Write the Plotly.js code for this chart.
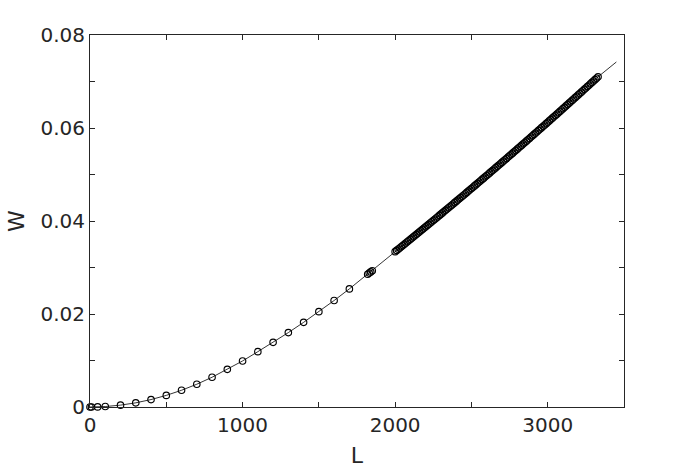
<!DOCTYPE html>
<html>
<head>
<meta charset="utf-8">
<script src="https://cdn.plot.ly/plotly-3.0.1.min.js"></script>
<style>html,body{margin:0;padding:0;background:#fff;}#plot{width:691px;height:470px;}</style>
</head>
<body>
<div id="plot"></div>
<script>
// Sparse low-L samples
const L_low = [0, 10, 50, 100, 200, 300, 400, 500, 600, 700, 800, 900, 1000, 1100, 1200, 1300, 1400, 1500, 1600, 1700, 1820, 1830, 1840, 1850];
const W_low = [0, 0.000001, 0.000025, 0.0001, 0.0004, 0.0009, 0.0016, 0.0025, 0.0036, 0.0049, 0.0064, 0.0081, 0.0099, 0.0119, 0.0139, 0.0160, 0.0182, 0.0205, 0.0229, 0.0254, 0.02855, 0.02880, 0.02905, 0.02930];

// Dense samples, 2000 - 3330
const L_dense = [2000,2010,2020,2030,2040,2050,2060,2070,2080,2090,2100,2110,2120,2130,2140,2150,2160,2170,2180,2190,
  2200,2210,2220,2230,2240,2250,2260,2270,2280,2290,2300,2310,2320,2330,2340,2350,2360,2370,2380,2390,
  2400,2410,2420,2430,2440,2450,2460,2470,2480,2490,2500,2510,2520,2530,2540,2550,2560,2570,2580,2590,
  2600,2610,2620,2630,2640,2650,2660,2670,2680,2690,2700,2710,2720,2730,2740,2750,2760,2770,2780,2790,
  2800,2810,2820,2830,2840,2850,2860,2870,2880,2890,2900,2910,2920,2930,2940,2950,2960,2970,2980,2990,
  3000,3010,3020,3030,3040,3050,3060,3070,3080,3090,3100,3110,3120,3130,3140,3150,3160,3170,3180,3190,
  3200,3210,3220,3230,3240,3250,3260,3270,3280,3290,3300,3310,3320,3330];
const W_dense = [0.03340,0.03367,0.03393,0.03420,0.03446,0.03473,0.03499,0.03526,0.03553,0.03580,0.03606,0.03633,0.03660,0.03687,0.03714,0.03740,0.03767,0.03794,0.03821,0.03848,
  0.03875,0.03902,0.03929,0.03957,0.03984,0.04011,0.04038,0.04065,0.04092,0.04120,0.04147,0.04174,0.04202,0.04229,0.04256,0.04284,0.04311,0.04339,0.04366,0.04394,
  0.04421,0.04449,0.04476,0.04504,0.04532,0.04559,0.04587,0.04615,0.04643,0.04670,0.04698,0.04726,0.04754,0.04782,0.04810,0.04838,0.04866,0.04894,0.04922,0.04950,
  0.04978,0.05006,0.05034,0.05062,0.05090,0.05119,0.05147,0.05175,0.05203,0.05232,0.05260,0.05289,0.05317,0.05345,0.05374,0.05402,0.05431,0.05459,0.05488,0.05517,
  0.05545,0.05574,0.05602,0.05631,0.05660,0.05689,0.05717,0.05746,0.05775,0.05804,0.05833,0.05862,0.05891,0.05920,0.05949,0.05978,0.06007,0.06036,0.06065,0.06094,
  0.06123,0.06152,0.06181,0.06211,0.06240,0.06269,0.06298,0.06328,0.06357,0.06387,0.06416,0.06445,0.06475,0.06504,0.06534,0.06563,0.06593,0.06623,0.06652,0.06682,
  0.06712,0.06741,0.06771,0.06801,0.06831,0.06860,0.06890,0.06920,0.06950,0.06980,0.07010,0.07040,0.07070,0.07100];

// Continuous curve extension beyond the last sample
const L_end = [3450];
const W_end = [0.0742];

const xTickVals = [0, 500, 1000, 1500, 2000, 2500, 3000, 3500];
const xTickText = ['0', '', '1000', '', '2000', '', '3000', ''];
const yTickVals = [0, 0.01, 0.02, 0.03, 0.04, 0.05, 0.06, 0.07, 0.08];
const yTickText = ['0', '', '0.02', '', '0.04', '', '0.06', '', '0.08'];

const Lm = L_low.concat(L_dense);
const Wm = W_low.concat(W_dense);

const curve = {
  x: Lm.concat(L_end), y: Wm.concat(W_end),
  mode: 'lines', type: 'scatter',
  line: {color: '#000', width: 0.8},
  hoverinfo: 'skip', showlegend: false, cliponaxis: false
};
const pts = {
  x: Lm, y: Wm,
  mode: 'markers', type: 'scatter',
  marker: {symbol: 'circle-open', size: 6.5, color: '#000', line: {width: 1.15, color: '#000'}},
  showlegend: false, cliponaxis: false
};

const tickFont = {family: 'DejaVu Sans, sans-serif', size: 20, color: '#262626'};
const titleFont = {family: 'DejaVu Sans, sans-serif', size: 22, color: '#262626'};
const layout = {
  width: 691, height: 470,
  margin: {l: 90, r: 67, t: 35, b: 63},
  paper_bgcolor: '#fff', plot_bgcolor: '#fff',
  xaxis: {
    range: [0, 3500], tickvals: xTickVals, ticktext: xTickText,
    ticks: 'inside', ticklen: 5, tickwidth: 1, tickcolor: '#262626',
    showline: true, linecolor: '#262626', linewidth: 1, mirror: 'ticks',
    showgrid: false, zeroline: false, tickfont: tickFont,
    title: {text: 'L', font: titleFont, standoff: 11}
  },
  yaxis: {
    range: [0, 0.08], tickvals: yTickVals, ticktext: yTickText,
    ticks: 'inside', ticklen: 5, tickwidth: 1, tickcolor: '#262626',
    showline: true, linecolor: '#262626', linewidth: 1, mirror: 'ticks',
    showgrid: false, zeroline: false, tickfont: tickFont,
    title: {text: 'W', font: titleFont, standoff: 9}
  }
};

Plotly.newPlot('plot', [curve, pts], layout, {staticPlot: true, displayModeBar: false});
</script>
</body>
</html>
